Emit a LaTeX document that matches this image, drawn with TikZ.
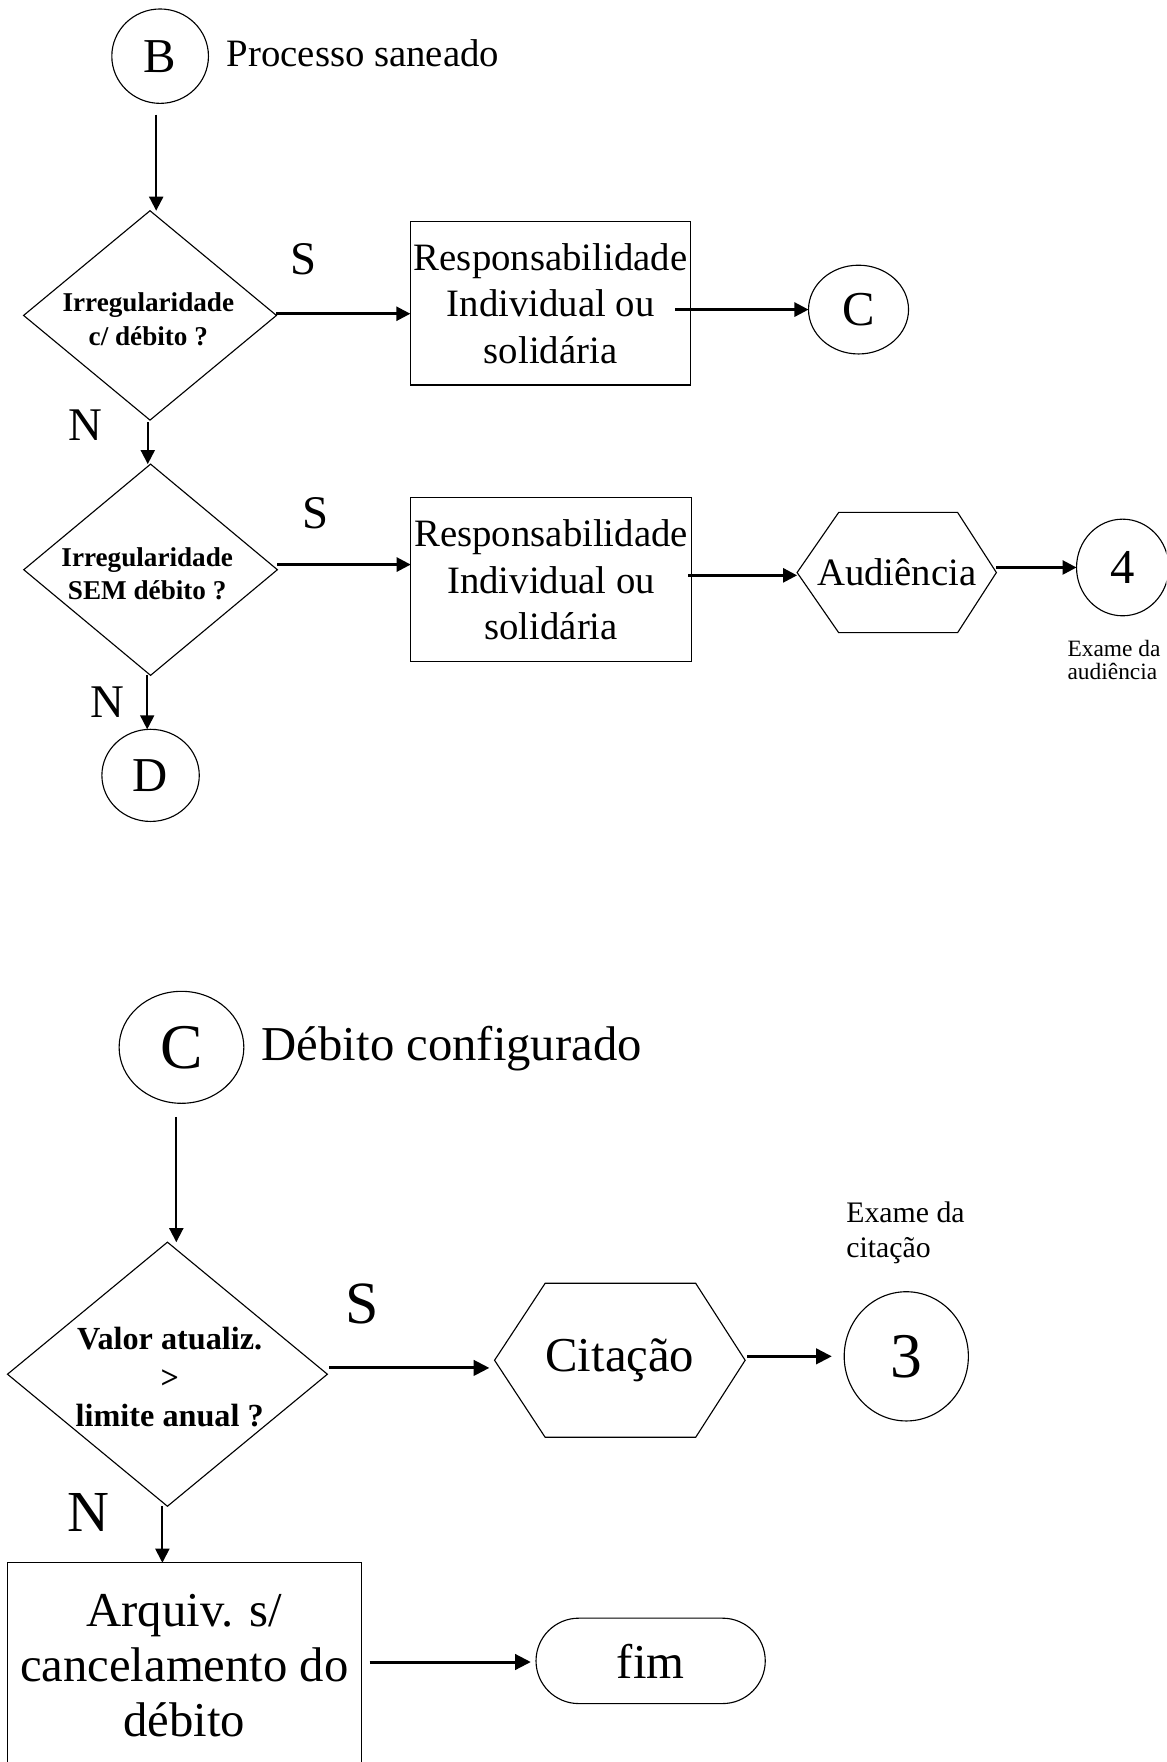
\documentclass[tikz,border=0pt]{standalone}
\usepackage{fontspec}
\setmainfont{Liberation Serif}
\usetikzlibrary{shapes.geometric,shapes.misc,arrows.meta,calc}
\newcommand\fmain{\fontsize{20.7pt}{24.9pt}\selectfont}
\newcommand\fbig{\fontsize{26pt}{29.3pt}\selectfont}
\newcommand\fdia{\fontsize{14.5pt}{17.9pt}\selectfont\bfseries}
\newcommand\fdiab{\fontsize{17.2pt}{20.4pt}\selectfont\bfseries}
\newcommand\fcirc{\fontsize{26pt}{30pt}\selectfont}
\newcommand\fcircb{\fontsize{34pt}{38pt}\selectfont}
\newcommand\fexa{\fontsize{12.5pt}{12.6pt}\selectfont}
\newcommand\fexb{\fontsize{15.9pt}{18.7pt}\selectfont}
\begin{document}
\begin{tikzpicture}[x=0.6pt,y=-0.6pt,
  shp/.style={draw,line width=0.6pt,inner sep=0pt,outer sep=0pt},
  ell/.style={shp,ellipse},
  dia/.style={shp,diamond},
  box/.style={shp,rectangle,align=center},
  lbl/.style={inner sep=0pt,outer sep=0pt},
  varr/.style={line width=1pt,-{Triangle[length=7.5pt,width=7.5pt]}},
  harr/.style={line width=1.4pt,-{Triangle[length=7.5pt,width=7.5pt]}},
  barr/.style={line width=1.6pt,-{Triangle[length=8.4pt,width=8.2pt]}}]
\useasboundingbox (0,0) rectangle (1038,1568);
\clip (0,0) rectangle (1038,1568);

% ---------- top part ----------
\node[ell,minimum width=51.6pt,minimum height=50.4pt,font=\fcirc] (B) at (142.5,50) {B};
\node[lbl,anchor=base west,font=\fmain] (Bt) at (201.8,59.4) {Processo saneado};

\node[dia,minimum width=135pt,minimum height=111.8pt] (d1) at (133.5,280.7) {};
\node[lbl,align=center,font=\fdia] (d1t) at (132,284) {Irregularidade\\c/ débito ?};

\node[box,minimum width=149.8pt,minimum height=87.2pt,font=\fmain] (box1) at (490,270)
  {Responsabilidade\\Individual ou\\solidária};
\node[ell,minimum width=53.4pt,minimum height=47.4pt,font=\fcirc] (Ctop) at (764,275.5) {C};

\node[dia,minimum width=135.4pt,minimum height=112.8pt] (d2) at (134,507) {};
\node[lbl,align=center,font=\fdia] (d2t) at (131,510.5) {Irregularidade\\SEM débito ?};

\node[box,minimum width=150pt,minimum height=87.6pt,font=\fmain] (box2) at (490.5,516)
  {Responsabilidade\\Individual ou\\solidária};

\node[lbl,minimum width=106.4pt,minimum height=64.2pt,font=\fmain] (aud) at (798,509.5) {Audiência};
\draw[line width=0.6pt] (aud.west) -- ($(aud.north west)+(37,0)$) -- ($(aud.north east)+(-34.5,0)$)
  -- (aud.east) -- ($(aud.south east)+(-34.5,0)$) -- ($(aud.south west)+(37,0)$) -- cycle;

\node[ell,minimum width=49.2pt,minimum height=51.6pt,font=\fcirc] (four) at (999,505) {4};
\node[lbl,anchor=west,align=left,font=\fexa] (ex4) at (950,587.5) {Exame da\\audiência};

\node[ell,minimum width=52pt,minimum height=49.2pt,font=\fcirc] (D) at (134,690) {D};

\node[lbl,font=\fontsize{25pt}{30pt}\selectfont] (S1) at (270.5,230.3) {S};
\node[lbl,font=\fontsize{25pt}{30pt}\selectfont] (S2) at (280.9,457) {S};
\node[lbl,font=\fontsize{25pt}{30pt}\selectfont] (N1) at (76,378) {N};
\node[lbl,font=\fontsize{25pt}{30pt}\selectfont] (N2) at (96,624.7) {N};

\draw[varr] ($(B.south)+(-3.5,10)$) -- ($(B.south |- d1.north)+(-3.5,0)$);
\draw[harr] ($(d1.east)+(0,-1.5)$) -- ($(d1.east -| box1.west)+(0,-1.5)$);
\draw[harr] ($(box1.east |- Ctop.west)+(-14,0)$) -- (Ctop.west);
\draw[varr] ($(d1.south)+(-2,2)$) -- ($(d1.south |- d2.north)+(-2,0)$);
\draw[harr] ($(d2.east)+(0,-4.6)$) -- ($(d2.east -| box2.west)+(0,-4.6)$);
\draw[harr] ($(box2.east |- aud.west)+(-3,2.5)$) -- ($(aud.west)+(0,2.5)$);
\draw[harr] (aud.east |- four.west) -- (four.west);
\draw[varr] ($(d2.south)+(-3,0)$) -- ($(d2.south |- D.north)+(-3,0)$);

% ---------- bottom part ----------
\node[ell,minimum width=66.6pt,minimum height=59.8pt,font=\fcircb] (Cbot) at (161.5,932) {C};
\node[lbl,anchor=base west,font=\fbig] (Ct) at (233,943.7) {Débito configurado};

\node[dia,minimum width=170.8pt,minimum height=141pt] (d3) at (149,1222.9) {};
\node[lbl,align=center,font=\fdiab] (d3t) at (151,1225.6) {Valor atualiz.\\>\\limite anual ?};

\node[lbl,minimum width=133.8pt,minimum height=82.2pt,font=\fbig] (cit) at (551.6,1210.5) {Citação};
\draw[line width=0.6pt] (cit.west) -- ($(cit.north west)+(45,0)$) -- ($(cit.north east)+(-44,0)$)
  -- (cit.east) -- ($(cit.south east)+(-44,0)$) -- ($(cit.south west)+(45,0)$) -- cycle;

\node[ell,minimum width=66.3pt,minimum height=69pt,font=\fcircb] (three) at (806.5,1207) {3};
\node[lbl,anchor=west,align=left,font=\fexb] (ex3) at (753.2,1097.2) {Exame da\\citação};

\node[box,minimum width=189pt,minimum height=109.6pt,font=\fbig] (box3) at (164,1482)
  {Arquiv. s/\\cancelamento do\\débito};
\node[shp,rounded rectangle,minimum width=122.4pt,minimum height=45.6pt,font=\fbig] (fim) at (579,1478) {fim};

\node[lbl,font=\fontsize{32pt}{36pt}\selectfont] (S3) at (322.4,1160) {S};
\node[lbl,font=\fontsize{31pt}{36pt}\selectfont] (N3) at (78.6,1345.8) {N};

\draw[varr] ($(Cbot.south)+(-4.6,12)$) -- ($(Cbot.south |- d3.north)+(-4.6,0)$);
\draw[barr] ($(d3.east)+(1.8,-5.6)$) -- ($(d3.east -| cit.west)+(-4.6,-5.6)$);
\draw[barr] ($(cit.east |- three.west)+(2,0)$) -- ($(three.west)+(-11,0)$);
\draw[varr] ($(d3.south)+(-4.5,0)$) -- ($(d3.south |- box3.north)+(-4.5,0)$);
\draw[barr] ($(box3.east |- fim.west)+(7.4,1)$) -- ($(fim.west)+(-4.6,1)$);
\end{tikzpicture}
\end{document}
